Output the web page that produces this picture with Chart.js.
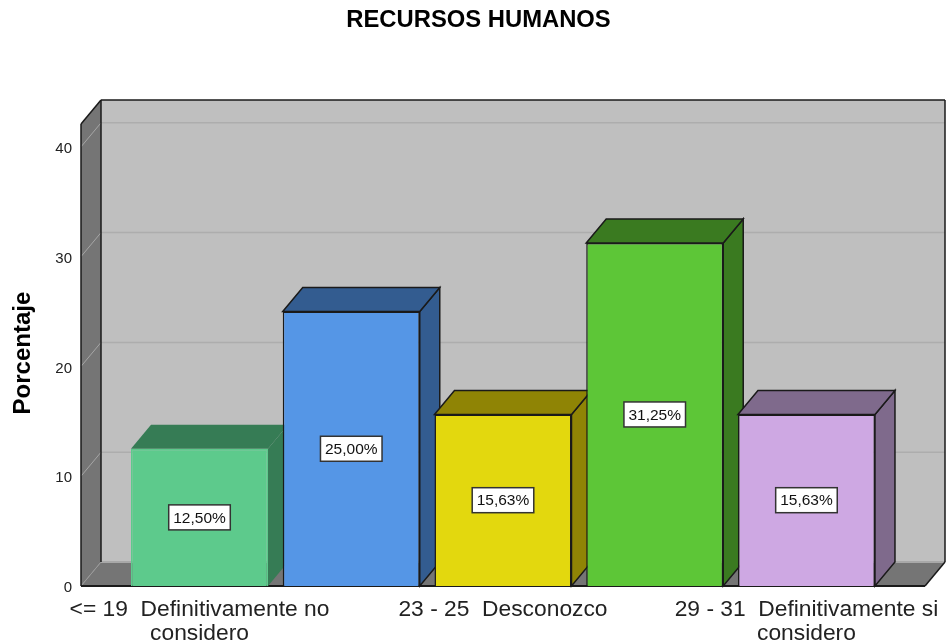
<!DOCTYPE html>
<html>
<head>
<meta charset="utf-8">
<style>html,body{margin:0;padding:0;background:#fff}canvas{display:block}</style>
<script src="https://cdn.jsdelivr.net/npm/chart.js@4"></script>
</head>
<body>
<canvas id="c" width="946" height="644"></canvas>
<script>
const categories = ["<= 19  Definitivamente no considero", "20 - 22", "23 - 25  Desconozco", "26 - 28", "29 - 31  Definitivamente si considero"];
const tickLabels = [["<= 19  Definitivamente no", "considero"], "", "23 - 25  Desconozco", "", ["29 - 31  Definitivamente si", "considero"]];
const values = [12.5, 25, 15.63, 31.25, 15.63];
const dataLabels = ["12,50%", "25,00%", "15,63%", "31,25%", "15,63%"];
const frontColors = ["#5dca8c", "#5596e6", "#e3d80e", "#5dc637", "#cea8e3"];
const sideColors = ["#367c55", "#335c90", "#8f8405", "#3a7a20", "#7f6a8c"];
const edgeColors = ["#5dca8c", "#1a1a1a", "#1a1a1a", "#1a1a1a", "#1a1a1a"];
const DEPTH_X = 20, DEPTH_Y = 24;
const FONT = '"Liberation Sans", Arial, sans-serif';

function poly(ctx, pts, fill, stroke, lw) {
  ctx.beginPath();
  pts.forEach((p, i) => i ? ctx.lineTo(p[0], p[1]) : ctx.moveTo(p[0], p[1]));
  ctx.closePath();
  if (fill) { ctx.fillStyle = fill; ctx.fill(); }
  if (stroke) { ctx.strokeStyle = stroke; ctx.lineWidth = lw || 1.5; ctx.stroke(); }
}
function seg(ctx, a, b, color, lw) {
  ctx.beginPath(); ctx.moveTo(a[0], a[1]); ctx.lineTo(b[0], b[1]);
  ctx.strokeStyle = color; ctx.lineWidth = lw; ctx.stroke();
}

const box3d = {
  id: 'box3d',
  beforeDatasetsDraw(chart) {
    const { ctx, chartArea: a, scales: { x, y } } = chart;
    const fl = a.left, fr = a.right - DEPTH_X, fb = y.getPixelForValue(0), ft = a.top + DEPTH_Y;
    ctx.save();
    poly(ctx, [[fl + DEPTH_X, a.top], [a.right, a.top], [a.right, fb - DEPTH_Y], [fl + DEPTH_X, fb - DEPTH_Y]], '#bfbfbf');
    poly(ctx, [[fl, ft], [fl + DEPTH_X, a.top], [fl + DEPTH_X, fb - DEPTH_Y], [fl, fb]], '#757575');
    poly(ctx, [[fl, fb], [fl + DEPTH_X, fb - DEPTH_Y], [a.right, fb - DEPTH_Y], [fr, fb]], '#757575');
    y.ticks.forEach(t => {
      const py = y.getPixelForValue(t.value);
      if (t.value === 0) {
        seg(ctx, [fl, py], [fl + DEPTH_X, py - DEPTH_Y], '#9a9a9a', 1);
        seg(ctx, [fl + DEPTH_X, py - DEPTH_Y], [a.right, py - DEPTH_Y], '#a8a8a8', 2);
        return;
      }
      seg(ctx, [fl, py], [fl + DEPTH_X, py - DEPTH_Y], '#a6a6a6', 1);
      seg(ctx, [fl + DEPTH_X, py - DEPTH_Y], [a.right, py - DEPTH_Y], '#adadad', 1.5);
    });
    const k = '#1a1a1a';
    seg(ctx, [fl, fb], [fl, ft], k, 1.5);
    seg(ctx, [fl, ft], [fl + DEPTH_X, a.top], k, 1.5);
    seg(ctx, [fl + DEPTH_X, a.top], [a.right, a.top], k, 1.5);
    seg(ctx, [a.right, a.top], [a.right, fb - DEPTH_Y], k, 1.5);
    seg(ctx, [fl + DEPTH_X, a.top], [fl + DEPTH_X, fb - DEPTH_Y], k, 1.5);
    seg(ctx, [a.right, fb - DEPTH_Y], [fr, fb], k, 1.5);
    seg(ctx, [fl, fb], [fr, fb], k, 2);
    chart.getDatasetMeta(0).data.forEach((bar, i) => {
      const l = bar.x - bar.width / 2, r = bar.x + bar.width / 2, t = bar.y, b = bar.base;
      const e = i === 0 ? null : '#1a1a1a';
      poly(ctx, [[r, t], [r + DEPTH_X, t - DEPTH_Y], [r + DEPTH_X, b - DEPTH_Y], [r, b]], sideColors[i], e, 1.5);
      poly(ctx, [[l, t], [l + DEPTH_X, t - DEPTH_Y], [r + DEPTH_X, t - DEPTH_Y], [r, t]], sideColors[i], e, 1.5);
    });
    ctx.restore();
  },
  afterDatasetsDraw(chart) {
    const { ctx } = chart;
    ctx.save();
    ctx.font = '15.5px ' + FONT;
    ctx.textAlign = 'center';
    ctx.textBaseline = 'middle';
    chart.getDatasetMeta(0).data.forEach((bar, i) => {
      const cy = (bar.y + bar.base) / 2;
      const w = ctx.measureText(dataLabels[i]).width + 9, h = 25;
      ctx.fillStyle = '#fff';
      ctx.fillRect(bar.x - w / 2, cy - h / 2, w, h);
      ctx.strokeStyle = '#333';
      ctx.lineWidth = 1.5;
      ctx.strokeRect(bar.x - w / 2, cy - h / 2, w, h);
      ctx.fillStyle = '#111';
      ctx.fillText(dataLabels[i], bar.x, cy + 1);
    });
    ctx.restore();
  }
};

new Chart(document.getElementById('c'), {
  type: 'bar',
  data: {
    datasets: [{
      label: 'Porcentaje',
      data: categories.map((c, i) => ({ x: i, y: values[i], name: c })),
      backgroundColor: frontColors,
      borderColor: edgeColors,
      borderWidth: 1.5,
      barPercentage: 0.903,
      categoryPercentage: 1
    }]
  },
  plugins: [box3d],
  options: {
    responsive: false,
    animation: false,
    layout: { padding: { left: 12, right: 1, top: 0, bottom: 0 } },
    plugins: {
      legend: { display: false },
      tooltip: { enabled: false },
      title: {
        display: true,
        text: 'RECURSOS HUMANOS',
        color: '#000',
        font: { family: FONT, size: 23.8, weight: 'bold', lineHeight: 1.2 },
        padding: { top: 6, bottom: 65.5 }
      }
    },
    scales: {
      x: {
        type: 'linear',
        offset: false,
        bounds: 'data',
        min: -0.781,
        max: 4.913,
        grid: { display: false, drawTicks: false },
        border: { display: false },
        afterBuildTicks(s) { s.ticks = categories.map((_, i) => ({ value: i })); },
        afterFit(s) { s.height = 58; s.paddingLeft = 0; s.paddingRight = 0; },
        ticks: {
          autoSkip: false,
          maxRotation: 0,
          padding: 12.5,
          color: '#222',
          font: { family: FONT, size: 22.8, lineHeight: 1.02 },
          callback: (v) => tickLabels[v]
        }
      },
      y: {
        min: 0,
        max: 44.26,
        grid: { display: false, drawTicks: false },
        border: { display: false },
        afterFit(s) { s.width = 69; },
        title: {
          display: true,
          text: 'Porcentaje   ',
          color: '#000',
          font: { family: FONT, size: 24, weight: 'bold', lineHeight: 1.2 },
          padding: { top: -3, bottom: 0 }
        },
        ticks: {
          stepSize: 10,
          includeBounds: false,
          padding: 9,
          labelOffset: 2,
          color: '#222',
          font: { family: FONT, size: 15 }
        }
      }
    }
  }
});
</script>
</body>
</html>
